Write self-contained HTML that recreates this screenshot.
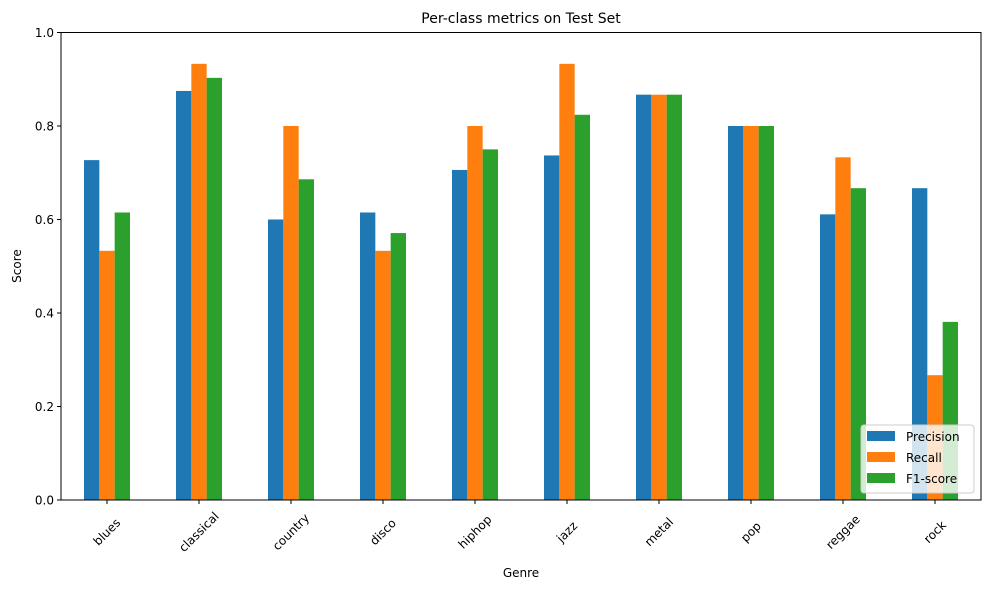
<!DOCTYPE html>
<html><head><meta charset="utf-8"><style>
body{margin:0;background:#fff;font-family:"Liberation Sans","DejaVu Sans",sans-serif;}
svg text{font-family:"DejaVu Sans","Liberation Sans",sans-serif;}
</style></head><body>
<svg id="chart" width="989" height="590" xmlns="http://www.w3.org/2000/svg">
<text x="521" y="23" font-size="14" text-anchor="middle">Per-class metrics on Test Set</text>
<g id="bars"></g>
<g id="axes"></g>
<text x="521" y="577" font-size="12" text-anchor="middle">Genre</text>
<text x="21" y="266" font-size="12" text-anchor="middle" transform="rotate(-90 21 266)">Score</text>
<g>
<rect x="861" y="425" width="113" height="68" rx="3" fill="#fff" fill-opacity="0.8" stroke="#ccc"/>
<rect x="867" y="431" width="28" height="10" fill="#1f77b4"/><text x="906" y="441" font-size="12">Precision</text>
<rect x="867" y="452" width="28" height="10" fill="#ff7f0e"/><text x="906" y="462" font-size="12">Recall</text>
<rect x="867" y="473" width="28" height="10" fill="#2ca02c"/><text x="906" y="483" font-size="12">F1-score</text>
</g>
</svg>
<script>
const categories=["blues","classical","country","disco","hiphop","jazz","metal","pop","reggae","rock"];
const precision=[0.727,0.875,0.6,0.615,0.706,0.737,0.867,0.8,0.611,0.667];
const recall=[0.533,0.933,0.8,0.533,0.8,0.933,0.867,0.8,0.733,0.267];
const f1=[0.615,0.903,0.686,0.571,0.75,0.824,0.867,0.8,0.667,0.381];
const yTicks=[0,0.2,0.4,0.6,0.8,1.0];
const NS="http://www.w3.org/2000/svg";
const L=61,R=981,T=32.5,B=500;
const band=(R-L)/categories.length;
const xc=i=>L+band*(i+0.5);
const y=v=>B-(B-T)*v;
const bw=band*0.5/3;
const bars=document.getElementById('bars');
const series=[[precision,'#1f77b4','precision'],[recall,'#ff7f0e','recall'],[f1,'#2ca02c','f1']];
series.forEach(([vals,col,nm],s)=>{vals.forEach((v,i)=>{
 const r=document.createElementNS(NS,'rect');
 r.setAttribute('x',xc(i)-1.5*bw+s*bw);r.setAttribute('y',y(v));
 r.setAttribute('width',bw);r.setAttribute('height',B-y(v));r.setAttribute('fill',col);
 
 
 bars.appendChild(r);});});
const ax=document.getElementById('axes');
let h='';
yTicks.forEach(t=>{h+=`<line x1="${L-4}" x2="${L}" y1="${y(t)}" y2="${y(t)}" stroke="#000"/><text x="${L-7}" y="${y(t)+4.5}" font-size="12" text-anchor="end">${t.toFixed(1)}</text>`;});
categories.forEach((c,i)=>{const x=xc(i);const cy=B+32;h+=`<line x1="${x}" x2="${x}" y1="${B}" y2="${B+4}" stroke="#000"/><text x="${x}" y="${cy+4}" font-size="12" text-anchor="middle" transform="rotate(-45 ${x} ${cy})">${c}</text>`;});
h+=`<rect x="${L}" y="${T}" width="${R-L}" height="${B-T}" fill="none" stroke="#000" stroke-width="1"/>`;
ax.innerHTML=h;


</script>
</body></html>
